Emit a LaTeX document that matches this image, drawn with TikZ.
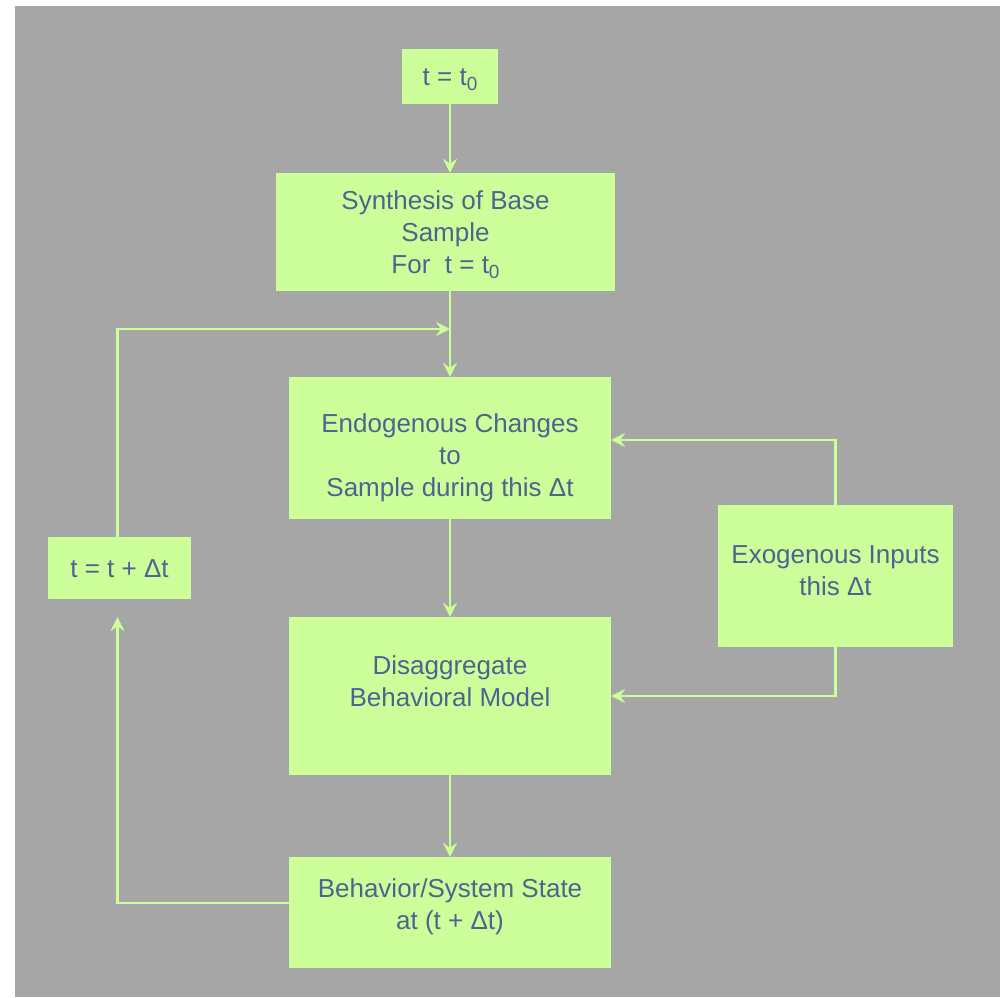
\documentclass[tikz,border=0pt]{standalone}
\usepackage{fontspec}
\setmainfont{Liberation Sans}
\usetikzlibrary{arrows.meta}
\definecolor{panel}{HTML}{A6A6A6}
\definecolor{boxfill}{HTML}{CCFF99}
\definecolor{ink}{RGB}{79,98,145}
% lowered subscript digit
\newcommand{\lowsub}[1]{\raisebox{-5pt}{\fontsize{19}{19}\selectfont #1}}
\begin{document}
\begin{tikzpicture}[x=1pt,y=-1pt,
  stepbox/.style={fill=boxfill, draw=none, inner sep=0pt},
  boxtext/.style={text=ink, font=\fontsize{26}{32}\selectfont, align=center, inner sep=0pt},
  flow/.style={draw=boxfill, line width=2.2pt, -{Stealth[length=14pt,width=14pt,inset=5pt]}}]
  % page and grey panel
  \useasboundingbox (0,0) rectangle (1000,997);
  \fill[white] (0,0) rectangle (1000,997);
  \fill[panel] (15,6) rectangle (1000,997);

  % boxes
  \node[stepbox, minimum width=96pt,  minimum height=55pt]  (t0)    at (450,76.5)  {};
  \node[stepbox, minimum width=339pt, minimum height=118pt] (synth) at (445.5,232)  {};
  \node[stepbox, minimum width=322pt, minimum height=142pt] (endo)  at (450,448)   {};
  \node[stepbox, minimum width=235pt, minimum height=142pt] (exo)   at (835.5,576) {};
  \node[stepbox, minimum width=322pt, minimum height=158pt] (dis)   at (450,696)   {};
  \node[stepbox, minimum width=143pt, minimum height=62pt]  (tdt)   at (119.5,568) {};
  \node[stepbox, minimum width=322pt, minimum height=111pt] (beh)   at (450,912.5) {};

  % box texts
  \node[boxtext] (t0text)    at (450,80)      {t = t\lowsub{0}};
  \node[boxtext] (synthtext) at (445.5,234.5) {Synthesis of Base\\Sample\\For~~t = t\lowsub{0}};
  \node[boxtext] (endotext)  at (450,458)     {Endogenous Changes\\to\\Sample during this Δt};
  \node[boxtext] (exotext)   at (835.5,571)   {Exogenous Inputs\\this Δt};
  \node[boxtext] (distext)   at (450,681)     {Disaggregate\\Behavioral Model};
  \node[boxtext] (tdttext)   at (119.5,568.5) {t = t + Δt};
  \node[boxtext] (behtext)   at (450,906.5)   {Behavior/System State\\at (t + Δt)};

  % connectors
  \coordinate (join) at (450,329);
  \draw[flow] (t0.south) -- (t0.south |- synth.north);
  \draw[flow] (endo.north |- synth.south) -- (endo.north);
  \draw[flow] ([xshift=-2pt]tdt.north) |- (join);
  \draw[flow] (exo.north) |- ([yshift=8pt]endo.east);
  \draw[flow] (exo.south) |- (dis.east);
  \draw[flow] (endo.south) -- (dis.north);
  \draw[flow] (dis.south) -- (beh.north);
  \draw[flow] ([yshift=9.5pt]beh.west) -| ([xshift=-2pt,yshift=-18pt]tdt.south);
\end{tikzpicture}
\end{document}
